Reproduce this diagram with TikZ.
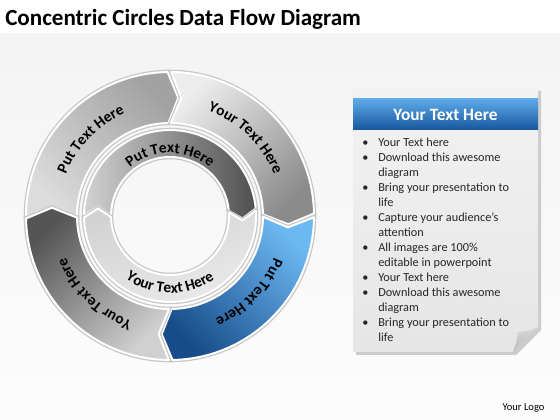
\documentclass[tikz,border=0pt]{standalone}
\usepackage{fontspec}
\setmainfont{Carlito}
\usetikzlibrary{decorations.text}

\definecolor{tlDark}{HTML}{A2A2A2}
\definecolor{tlLight}{HTML}{DCDCDC}
\definecolor{trLight}{HTML}{ECECEC}
\definecolor{trDark}{HTML}{8A8A8A}
\definecolor{blLight}{HTML}{6CB8F2}
\definecolor{blDark}{HTML}{174C8A}
\definecolor{blgDark}{HTML}{555555}
\definecolor{blgLight}{HTML}{D0D0D0}
\definecolor{inLight}{HTML}{D2D2D2}
\definecolor{inDark}{HTML}{4F4F4F}
\definecolor{hdrLight}{HTML}{5DAAE8}
\definecolor{hdrDark}{HTML}{17569E}

% one arrow piece of a ring: start, end, inner r, outer r, tip, style
\newcommand{\ringseg}[6]{%
  \path[#6] (#1:#4) arc[start angle=#1, end angle=#2, radius=#4]
    -- ({#2-#5}:{(#3+#4)/2}) -- (#2:#3)
    arc[start angle=#2, end angle=#1, radius=#3]
    -- ({#1-#5}:{(#3+#4)/2}) -- cycle;}
\newcommand{\ringfont}{\fontsize{11.5}{13}\selectfont\bfseries}

\begin{document}
\begin{tikzpicture}[x=0.75pt, y=0.75pt]
    \tikzstyle{seg} = [preaction={draw=black!22, line width=3.4pt}, draw=white, line width=1.5pt, line join=round];
    \tikzstyle{ringtext} = [decorate, decoration={text along path, text align=center}];
    \tikzstyle{title} = [anchor=base west, inner sep=0, font=\fontsize{17.3}{20}\selectfont\bfseries];
    \useasboundingbox (0,0) rectangle (560,420);
    \shade[top color=gray!9, bottom color=gray!2] (0,0) rectangle (560,387);
    \fill[white] (0,387) rectangle (560,420);
    \node[title] (title) at (5,394) {Concentric Circles Data Flow Diagram};

    % outer and inner rings
    \begin{scope}[shift={(170,204)}]
      \ringseg{181}{91}{93}{144}{5}{seg, top color=tlDark, bottom color=tlLight, shading angle=-45}
      \ringseg{89.5}{1}{93}{144}{5}{seg, top color=trLight, bottom color=trDark, shading angle=45}
      \ringseg{-0.5}{-89}{93}{144}{5}{seg, top color=blLight, bottom color=blDark, shading angle=-45}
      \ringseg{-90.5}{-179}{93}{144}{5}{seg, top color=blgDark, bottom color=blgLight, shading angle=45}
      \ringseg{179.5}{5}{59}{86}{7}{seg, left color=inLight, right color=inDark}
      \ringseg{3.5}{-179}{59}{86}{7}{seg, top color=gray!35, bottom color=gray!16, shading angle=20}

      \path[ringtext, decoration={text={|\ringfont|Put Text Here}}] (181:112) arc[start angle=181, end angle=91, radius=112];
      \path[ringtext, decoration={text={|\ringfont|Your Text Here}}] (91:112) arc[start angle=91, end angle=1, radius=112];
      \path[ringtext, decoration={text={|\ringfont|Put Text Here}}] (1:112) arc[start angle=1, end angle=-89, radius=112];
      \path[ringtext, decoration={text={|\ringfont|Your Text Here}}] (-89:112) arc[start angle=-89, end angle=-179, radius=112];
      \path[ringtext, decoration={text={|\ringfont|Put Text Here}}] (178:63) arc[start angle=178, end angle=2, radius=63];
      \path[ringtext, decoration={text={|\ringfont|Your Text Here}}] (-180:77) arc[start angle=-180, end angle=0, radius=77];
    \end{scope}

    % text panel
    \fill[black!20] (356,329) -- (541,329) -- (541,90) -- (516,65) -- (356,65) -- cycle;
    \path[top color=gray!10, bottom color=gray!20] (353,332) -- (538,332) -- (538,93) .. controls (527,84) .. (513,68) -- (353,68) -- cycle;
    \path[top color=gray!30, bottom color=gray!55] (538,93) .. controls (528,89) .. (518,88) .. controls (517,80) .. (513,68) .. controls (527,84) .. cycle;
    \shade[top color=hdrLight, bottom color=hdrDark] (353,321) rectangle (538,290);
    \node[text=white, font=\fontsize{13}{15}\selectfont\bfseries] (header) at (445.5,305.5) {Your Text Here};
    \node[anchor=north west, inner sep=0, font=\fontsize{9.2}{11.25}\selectfont, text=black!85] (list) at (362,284.5) {%
      \begin{tabular}{@{}p{12pt}@{}l@{}}
        \textbullet & Your Text here\\
        \textbullet & Download this awesome\\
                    & diagram\\
        \textbullet & Bring your presentation to\\
                    & life\\
        \textbullet & Capture your audience’s\\
                    & attention\\
        \textbullet & All images are 100\%\\
                    & editable in powerpoint\\
        \textbullet & Your Text here\\
        \textbullet & Download this awesome\\
                    & diagram\\
        \textbullet & Bring your presentation to\\
                    & life
      \end{tabular}};
    \node[font=\fontsize{7.9}{9}\selectfont] (logo) at (523.5,12) {Your Logo};
  \end{tikzpicture}
\end{document}
